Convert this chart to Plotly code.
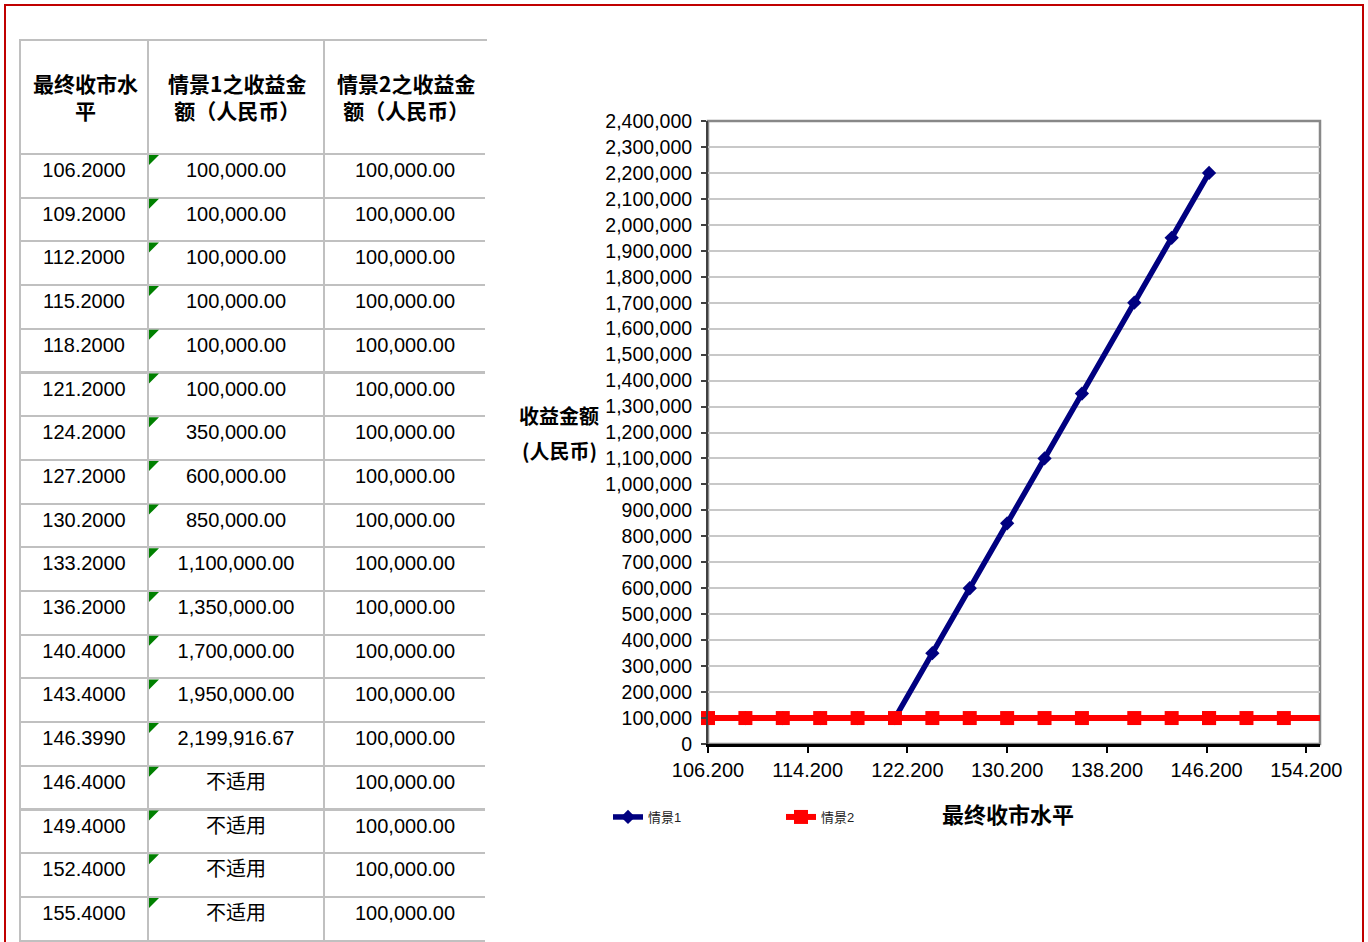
import plotly.graph_objects as go

# ---------------- data ----------------
levels = [106.2, 109.2, 112.2, 115.2, 118.2, 121.2, 124.2, 127.2, 130.2, 133.2,
          136.2, 140.4, 143.4, 146.399, 146.4, 149.4, 152.4, 155.4]
level_labels = ["106.2000", "109.2000", "112.2000", "115.2000", "118.2000", "121.2000",
                "124.2000", "127.2000", "130.2000", "133.2000", "136.2000", "140.4000",
                "143.4000", "146.3990", "146.4000", "149.4000", "152.4000", "155.4000"]
scenario1 = [100000, 100000, 100000, 100000, 100000, 100000, 350000, 600000, 850000,
             1100000, 1350000, 1700000, 1950000, 2199916.67, None, None, None, None]
scenario2 = [100000] * 18
na_text = "不适用"
header_labels = ["最终收市水<br>平",
                 "情景1之收益金<br>额（人民币）",
                 "情景2之收益金<br>额（人民币）"]
series_names = ["情景1", "情景2"]
x_title = "最终收市水平"
y_title_lines = ["收益金额", "(人民币)"]

# ---------------- layout constants ----------------
W, H = 1368, 942
def px(x):
    return x / W
def py(y):
    return 1 - y / H

col1 = [f"{v:,.2f}" if v is not None else na_text for v in scenario1]
col2 = [f"{v:,.2f}" for v in scenario2]

table_left, table_right, table_top = 20, 486, 40
col_widths = [128, 176, 162]
header_h = 114
row_h = 43.7

fig = go.Figure()

fig.add_trace(go.Table(
    domain=dict(x=[px(table_left), px(table_right)], y=[0, py(table_top)]),
    columnwidth=col_widths,
    header=dict(
        values=["", "", ""],
        align="center",
        height=header_h,
        line=dict(color="#c0c0c0", width=2),
        fill=dict(color="white"),
        font=dict(family="Noto Sans CJK SC", size=20, color="black"),
    ),
    cells=dict(
        values=[level_labels, col1, col2],
        align="center",
        height=row_h,
        line=dict(color="#c0c0c0", width=2),
        fill=dict(color="white"),
        font=dict(family="Liberation Sans, Noto Sans CJK SC", color="black", size=20),
    ),
))

fig.add_trace(go.Scatter(
    x=levels, y=scenario1, name=series_names[0], mode="lines+markers",
    line=dict(color="#000080", width=5.5),
    marker=dict(symbol="diamond", size=11, color="#000080"),
    cliponaxis=False,
))
fig.add_trace(go.Scatter(
    x=levels, y=scenario2, name=series_names[1], mode="lines+markers",
    line=dict(color="#ff0000", width=6),
    marker=dict(symbol="square", size=14, color="#ff0000"),
    cliponaxis=False,
))

shapes = [
    # plot-area frame
    dict(type="rect", xref="x domain", yref="y domain", x0=0, x1=1, y0=0, y1=1,
         line=dict(color="#888888", width=2.5), layer="below"),
    # hide table's right edge (open-ended in the reference)
    dict(type="line", xref="paper", yref="paper", x0=px(table_right + 1), x1=px(table_right + 1),
         y0=0, y1=py(table_top + 1), line=dict(color="white", width=4), layer="above"),
    # outer red border
    dict(type="rect", xref="paper", yref="paper", x0=px(5), x1=px(1363), y0=-0.02, y1=py(5),
         line=dict(color="#c00000", width=2), layer="above"),
]
# comment indicator triangles in column 2 cells
cx0 = table_left + col_widths[0] + 1
for i in range(len(levels)):
    top = table_top + header_h + i * row_h + 1
    shapes.append(dict(
        type="path", xref="paper", yref="paper",
        path=f"M {px(cx0)} {py(top)} L {px(cx0 + 10)} {py(top)} L {px(cx0)} {py(top + 10)} Z",
        fillcolor="#008000", line=dict(width=0), layer="above"))

# header texts, centred in each header cell
annotations = []
edge = table_left
for lab, w in zip(header_labels, col_widths):
    annotations.append(dict(
        text=lab, xref="paper", yref="paper", x=px(edge + w / 2 + 1), y=py(table_top + header_h / 2),
        xanchor="center", yanchor="middle", showarrow=False, align="center",
        font=dict(size=21, family="Noto Sans CJK SC", weight="bold", color="black")))
    edge += w

annotations += [
    dict(text=y_title_lines[0], xref="paper", yref="paper", x=px(559), y=py(415),
         xanchor="center", yanchor="middle", showarrow=False,
         font=dict(size=20, family="Noto Sans CJK SC", weight="bold")),
    dict(text=y_title_lines[1], xref="paper", yref="paper", x=px(559), y=py(450),
         xanchor="center", yanchor="middle", showarrow=False,
         font=dict(size=20, family="Noto Sans CJK SC", weight="bold")),
    dict(text=x_title, xref="paper", yref="paper", x=px(1008), y=py(813),
         xanchor="center", yanchor="middle", showarrow=False,
         font=dict(size=22, family="Noto Sans CJK SC", weight="bold")),
]

fig.update_layout(
    template="none",
    width=W, height=H, autosize=False,
    margin=dict(l=0, r=0, t=0, b=0, pad=0),
    paper_bgcolor="white", plot_bgcolor="white",
    font=dict(family="Liberation Sans, Noto Sans CJK SC", color="black"),
    showlegend=True,
    legend=dict(orientation="h", x=px(608), y=py(802), xanchor="left", yanchor="top",
                font=dict(size=13, family="Liberation Sans, Noto Sans CJK SC", color="#222222"),
                entrywidth=128, entrywidthmode="pixels", bgcolor="rgba(0,0,0,0)"),
    xaxis=dict(
        domain=[px(708), px(1320)], range=[106.2, 155.3], automargin=False,
        tickmode="linear", tick0=106.2, dtick=8, tickformat=".3f",
        showgrid=False, zeroline=False,
        showline=True, linecolor="black", linewidth=2.5,
        ticks="outside", ticklen=6, tickwidth=2, tickcolor="black",
        tickfont=dict(size=20, family="Liberation Sans"),
    ),
    yaxis=dict(
        domain=[py(744), py(121)], range=[0, 2400000], automargin=False,
        tickmode="linear", tick0=0, dtick=100000, tickformat=",d",
        showgrid=True, gridcolor="#c8c8c8", gridwidth=1.5, zeroline=False,
        showline=True, linecolor="#404040", linewidth=2,
        ticks="outside", ticklen=5, tickwidth=1.5, tickcolor="#404040",
        ticklabelstandoff=5,
        tickfont=dict(size=19.5, family="Liberation Sans"),
    ),
    shapes=shapes,
    annotations=annotations,
)

fig.write_html("out.html", config={"displayModeBar": False},
               post_script="document.body.style.margin='0';")
